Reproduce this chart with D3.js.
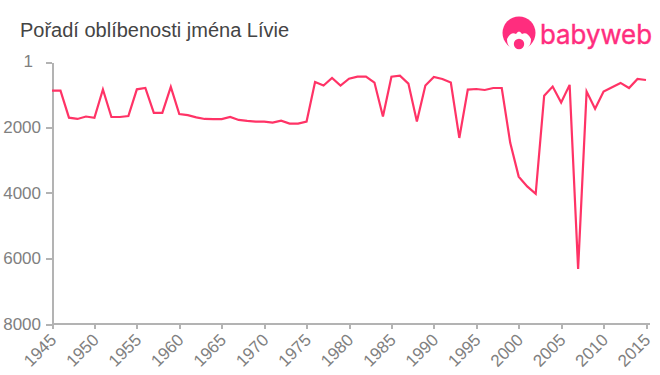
<!DOCTYPE html>
<meta charset="utf-8">
<style>
    body { margin: 0; background: #fff; }
    svg { display: block; }
    text { font-family: "Liberation Sans", Arial, sans-serif; }
    .axis path, .axis line { stroke: #b3b3b3; stroke-width: 2px; fill: none; shape-rendering: crispEdges; }
    .axis text { fill: #808080; font-size: 17px; }
</style>
<svg class="chart"></svg>
<script src="https://d3js.org/d3.v7.min.js" charset="utf-8"></script>
<script>

    var years = d3.range(1945, 2016);
    var ranks = [875, 875, 1700, 1740, 1665, 1705, 840, 1680, 1680, 1650,
        835, 795, 1555, 1555, 760, 1590, 1625, 1690, 1740, 1745,
        1745, 1680, 1770, 1800, 1820, 1820, 1850, 1790, 1880, 1880,
        1820, 610, 720, 490, 720, 510, 450, 450, 630, 1665,
        450, 420, 660, 1820, 720, 460, 520, 630, 2320, 845,
        825, 855, 795, 795, 2470, 3500, 3800, 4025, 1030, 750,
        1240, 700, 6320, 905, 1430, 905, 770, 640, 795, 520, 550];
    var yTicks = [1, 2000, 4000, 6000, 8000];
    var xTicks = d3.range(1945, 2016, 5);
    var title = "Pořadí oblíbenosti jména Lívie";

    var width = 660,
        height = 375;

    var x = d3.scaleLinear().domain([1945, 2015]).range([52, 646]);
    var y = d3.scaleLinear().domain([1, 8000]).range([62, 324]);

    var chart = d3.select(".chart")
        .attr("width", width)
        .attr("height", height);

    chart.append("text")
        .attr("x", 20)
        .attr("y", 37)
        .attr("fill", "#444")
        .style("font-size", "20px")
        .text(title);

    var yAxis = chart.append("g")
        .attr("class", "axis")
        .attr("transform", "translate(52,0)")
        .call(d3.axisLeft(y).tickValues(yTicks).tickFormat(d3.format("d")).tickSize(6).tickSizeOuter(0).tickPadding(5));
    yAxis.selectAll("text").attr("dy", "0.32em");
    // the "1" label sits further left than the others in the reference
    yAxis.selectAll("text").filter(function(d) { return d === 1; })
        .attr("dx", -8)
        .attr("dy", "0.25em");

    var xAxis = chart.append("g")
        .attr("class", "axis")
        .attr("transform", "translate(0,324)")
        .call(d3.axisBottom(x).tickValues(xTicks).tickFormat(d3.format("d")).tickSize(5).tickSizeOuter(0));
    xAxis.select(".domain").attr("d", "M52,0H650");
    xAxis.selectAll("text")
        .attr("text-anchor", "end")
        .attr("dx", 0)
        .attr("dy", 0)
        .attr("y", 0)
        .attr("transform", "translate(5,17) rotate(-45)");

    var line = d3.line()
        .x(function(d, i) { return x(years[i]); })
        .y(function(d) { return y(d); });

    chart.append("path")
        .datum(ranks)
        .attr("fill", "none")
        .attr("stroke", "#ff3366")
        .attr("stroke-width", 2.2)
        .attr("d", line);

    // logo
    var logo = chart.append("g").attr("fill", "#ff2d7e");
    logo.append("circle").attr("cx", 519).attr("cy", 33).attr("r", 16.5);
    logo.append("path").attr("fill", "#fff")
        .attr("d", "M507,39 Q511,31 516,34 Q519,29 522,34 Q527,31 531,39 Q531,50 519,51 Q507,50 507,39Z");
    logo.append("circle").attr("cx", 519).attr("cy", 44).attr("r", 5.2);
    logo.append("text")
        .attr("x", 540)
        .attr("y", 43.5)
        .attr("textLength", 112)
        .attr("lengthAdjust", "spacingAndGlyphs")
        .attr("stroke", "#ff2d7e")
        .attr("stroke-width", 0.4)
        .style("font-family", "Inter, sans-serif")
        .style("font-size", "26.5px")
        .text("babyweb");

</script>
